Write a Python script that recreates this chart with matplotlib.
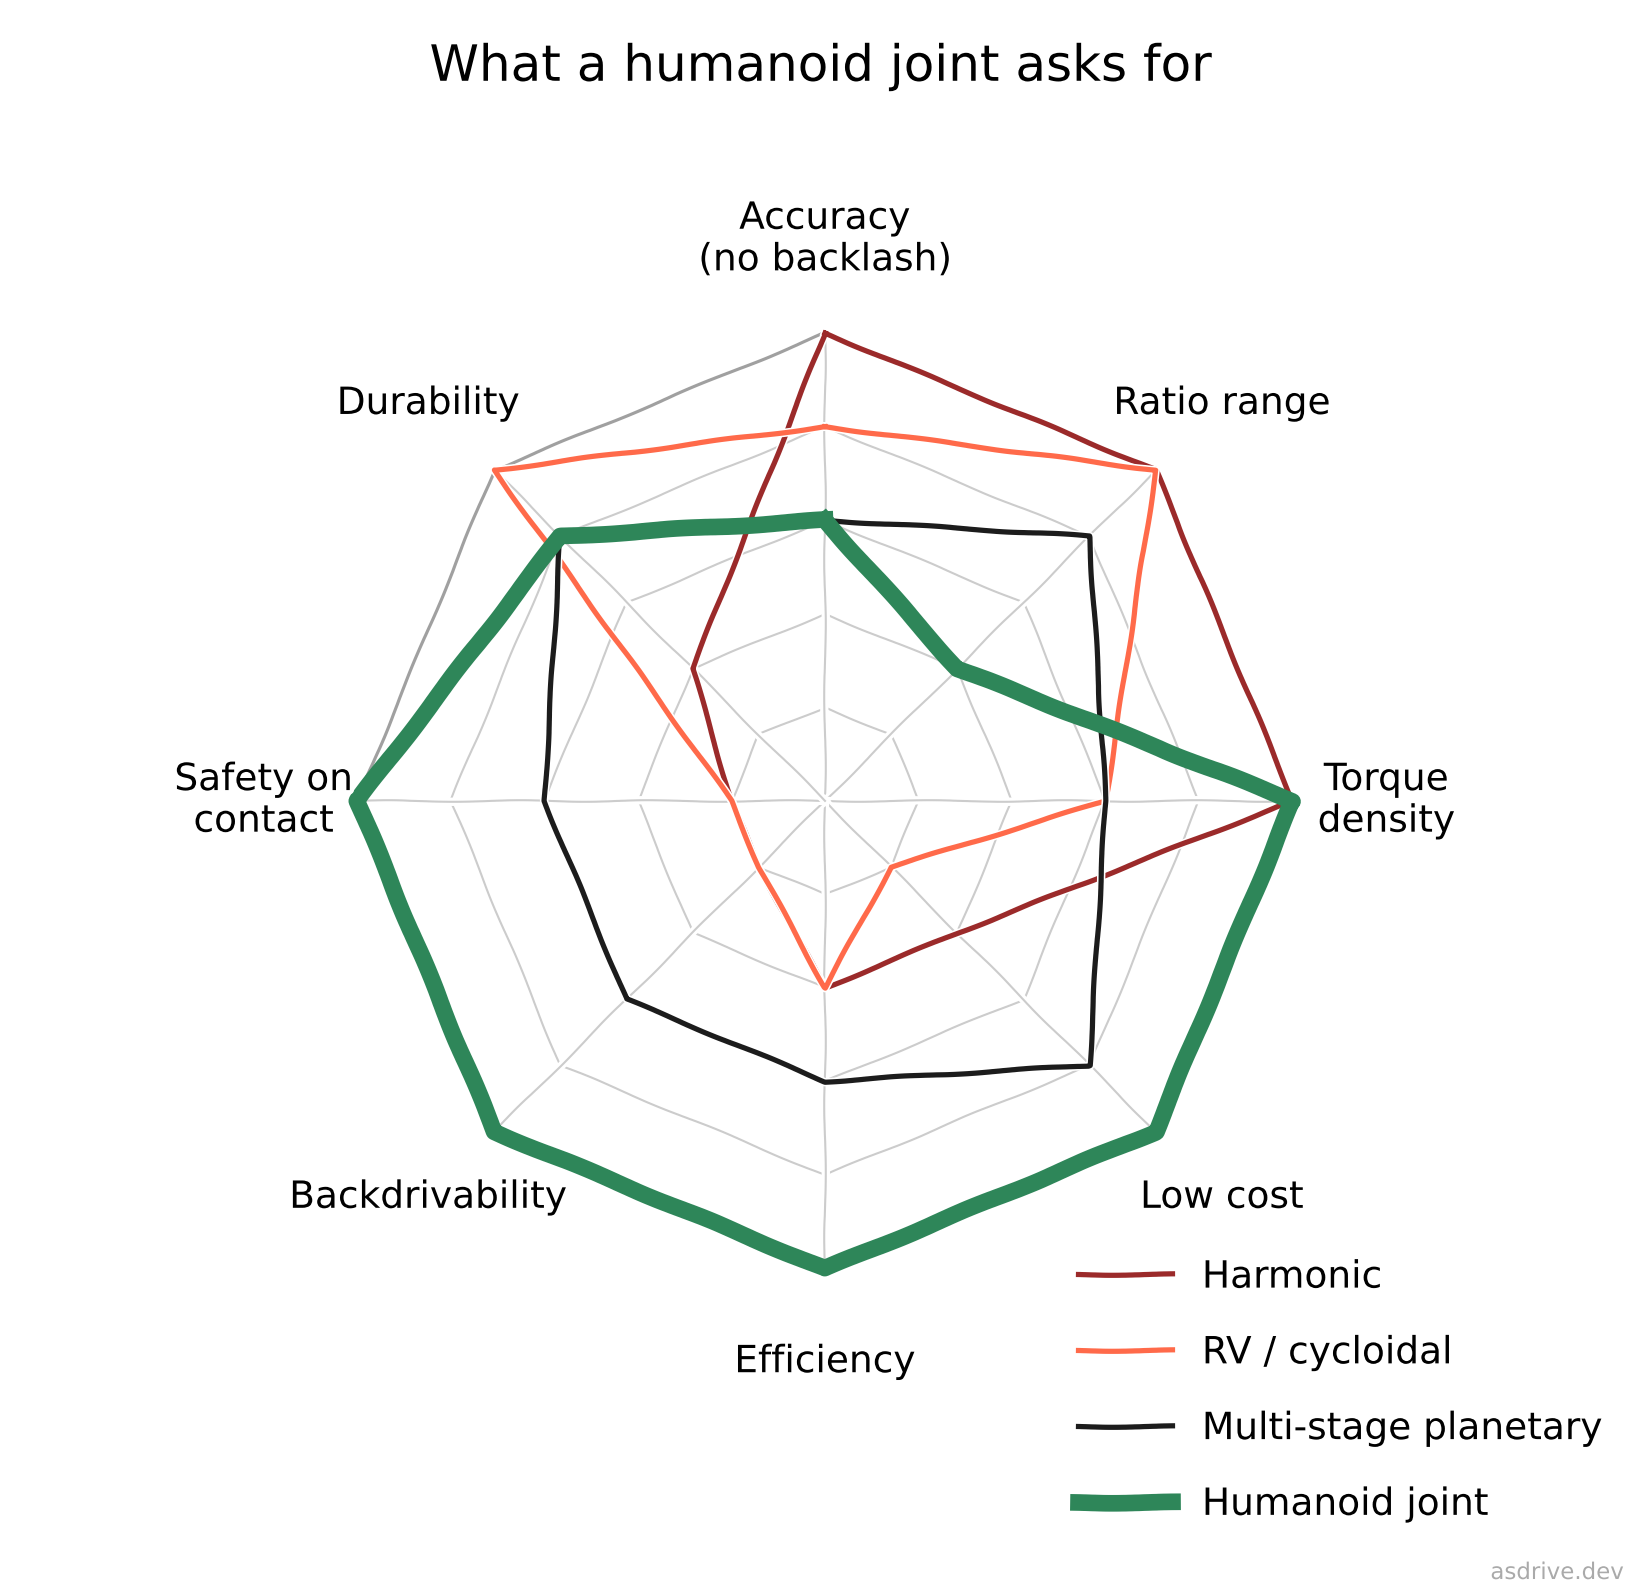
import numpy as np
import matplotlib
matplotlib.use("Agg")
import matplotlib.pyplot as plt

categories = ["Accuracy\n(no backlash)", "Ratio range", "Torque\ndensity", "Low cost",
              "Efficiency", "Backdrivability", "Safety on\ncontact", "Durability"]
harmonic = [5, 5, 5, 2, 2, 1, 1, 2]
rv_cycloidal = [4, 5, 3, 1, 2, 1, 1, 5]
planetary = [3, 4, 3, 4, 3, 3, 3, 4]
humanoid = [3, 2, 5, 5, 5, 5, 5, 4]
levels = [1, 2, 3, 4, 5]

series = [
    ("Harmonic", harmonic, "#9b2a2a", 2.5),
    ("RV / cycloidal", rv_cycloidal, "#ff6a4a", 2.5),
    ("Multi-stage planetary", planetary, "#1c1c1c", 2.5),
    ("Humanoid joint", humanoid, "#2e8659", 8.0),
]

plt.xkcd(scale=0.8, length=150, randomness=2)
plt.rcParams["font.family"] = ["DejaVu Sans"]

n = len(categories)
angles = np.arange(n) * 2 * np.pi / n
closed = np.append(angles, angles[0])

fig = plt.figure(figsize=(11, 10.6), dpi=150)
ax = fig.add_axes([0.5 - 0.2835, 0.4963 - 0.2955, 0.567, 0.591], projection="polar")
ax.set_theta_offset(np.pi / 2)
ax.set_theta_direction(-1)
ax.set_ylim(0, 5)
ax.set_xticks([])
ax.set_yticks([])
ax.grid(False)
ax.spines["polar"].set_visible(False)
ax.patch.set_visible(False)

# polygon grid + spokes
for lv in levels:
    ax.plot(closed, [lv] * (n + 1), color="#cccccc", lw=1.0, clip_on=False, zorder=1)
ax.plot(closed, [5] * (n + 1), color="#a0a0a0", lw=1.5, clip_on=False, zorder=1)
for a in angles:
    ax.plot([a, a], [0, 5], color="#cccccc", lw=1.0, clip_on=False, zorder=1)

for name, vals, col, lw in series:
    v = list(vals) + [vals[0]]
    ax.plot(closed, v, color=col, lw=lw, label=name, clip_on=False, zorder=3)

for a, lab in zip(angles, categories):
    ax.text(a, 6.0, lab, ha="center", va="center", fontsize=18)

fig.text(0.4975, 0.958, "What a humanoid joint asks for", ha="center", va="center", fontsize=24)

ax.legend(loc="lower left", bbox_to_anchor=(0.633, 0.021), bbox_transform=fig.transFigure,
          frameon=False, fontsize=18, handlelength=2.5, labelspacing=1.06)

fig.text(0.984, 0.011, "asdrive.dev", ha="right", va="center", fontsize=11, color="#aaaaaa")

fig.savefig("out.png", dpi=150, facecolor="white")
